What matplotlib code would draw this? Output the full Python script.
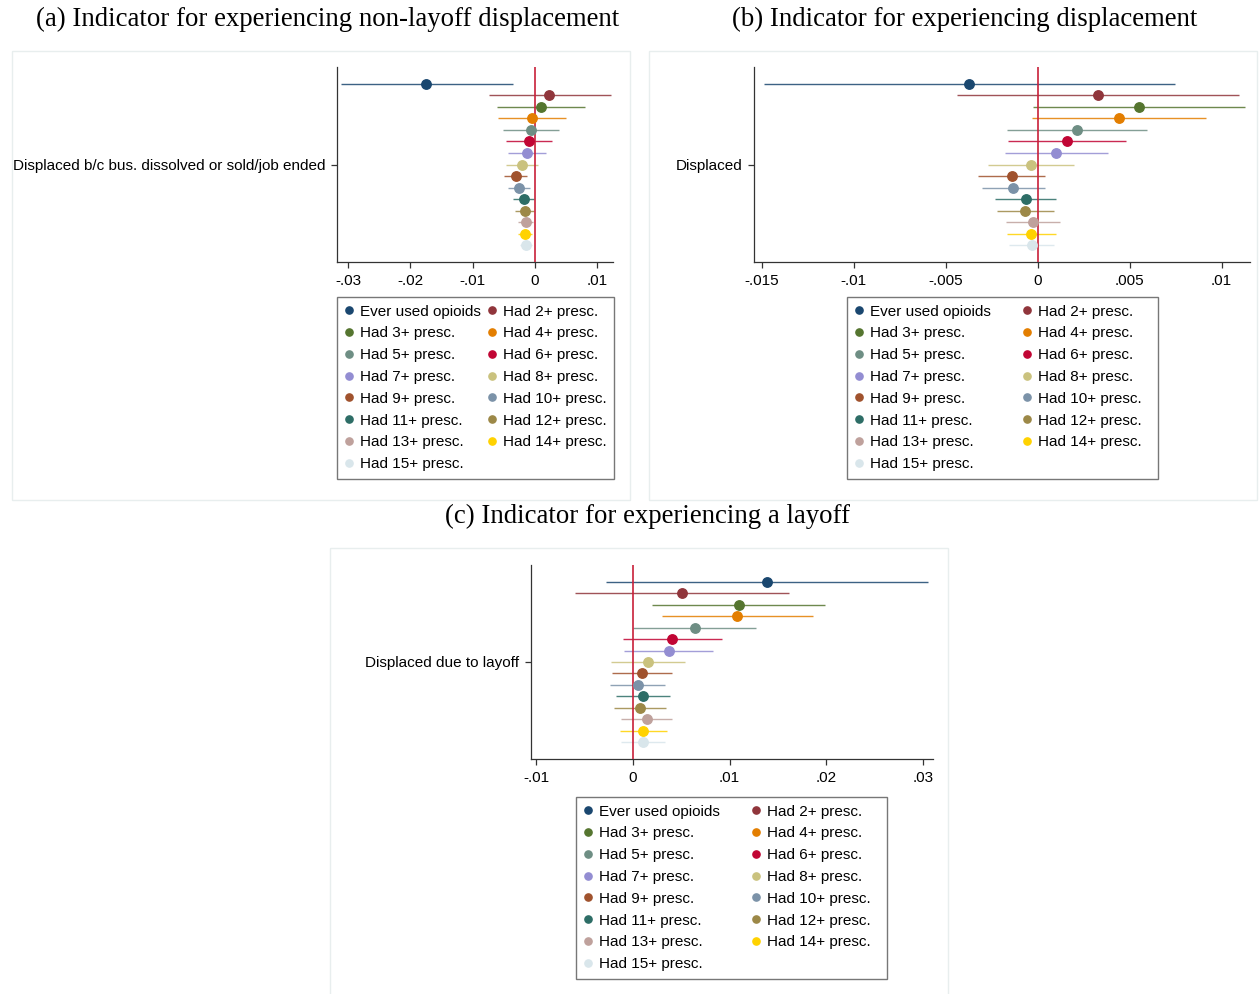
import matplotlib
matplotlib.use("Agg")
import matplotlib.pyplot as plt
from matplotlib.lines import Line2D
from matplotlib.patches import Rectangle
from matplotlib.ticker import FixedLocator

W, H = 1259, 994
fig = plt.figure(figsize=(W / 100, H / 100), dpi=100)
fig.patch.set_facecolor("white")

SANS = "Liberation Sans"
SERIF = "Liberation Serif"

labels = ["Ever used opioids", "Had 2+ presc.", "Had 3+ presc.", "Had 4+ presc.",
          "Had 5+ presc.", "Had 6+ presc.", "Had 7+ presc.", "Had 8+ presc.",
          "Had 9+ presc.", "Had 10+ presc.", "Had 11+ presc.", "Had 12+ presc.",
          "Had 13+ presc.", "Had 14+ presc.", "Had 15+ presc."]
colors = ["#1a476f", "#90353b", "#55752f", "#e37e00", "#6e8e84", "#c10534",
          "#938dd2", "#cac27e", "#a0522d", "#7b92a8", "#2d6d66", "#9c8847",
          "#bfa19c", "#ffd200", "#d9e6eb"]

# Panel (a): non-layoff displacement
a_est = [-0.01742, 0.00233, 0.00097, -0.00049, -0.00065, -0.00092, -0.00130, -0.00211,
         -0.00303, -0.00249, -0.00179, -0.00157, -0.00141, -0.00152, -0.00141]
a_lo = [-0.03117, -0.00741, -0.00611, -0.00595, -0.00514, -0.00455, -0.00433, -0.00460,
        -0.00492, -0.00433, -0.00357, -0.00314, -0.00276, -0.00265, -0.00244]
a_hi = [-0.00357, 0.01218, 0.00806, 0.00509, 0.00395, 0.00271, 0.00173, 0.00054,
        -0.00124, -0.00070, -0.00011, -0.00005, -0.00022, -0.00038, -0.00049]

# Panel (b): displacement
b_est = [-0.00371, 0.00328, 0.00549, 0.00442, 0.00212, 0.00161, 0.00101, -0.00038,
         -0.00141, -0.00132, -0.00063, -0.00067, -0.00027, -0.00034, -0.00033]
b_lo = [-0.01489, -0.00437, -0.00027, -0.00031, -0.00168, -0.00161, -0.00179, -0.00272,
        -0.00322, -0.00301, -0.00230, -0.00219, -0.00172, -0.00167, -0.00156]
b_hi = [0.00746, 0.01094, 0.01127, 0.00917, 0.00592, 0.00482, 0.00380, 0.00196,
        0.00040, 0.00038, 0.00101, 0.00087, 0.00120, 0.00098, 0.00091]

# Panel (c): layoff
c_est = [0.01386, 0.00510, 0.01097, 0.01079, 0.00638, 0.00410, 0.00372, 0.00162,
         0.00097, 0.00052, 0.00107, 0.00076, 0.00145, 0.00110, 0.00107]
c_lo = [-0.00276, -0.00597, 0.00203, 0.00307, 0.00007, -0.00103, -0.00093, -0.00221,
        -0.00217, -0.00234, -0.00176, -0.00190, -0.00121, -0.00131, -0.00124]
c_hi = [0.03048, 0.01614, 0.01986, 0.01862, 0.01272, 0.00924, 0.00828, 0.00541,
        0.00407, 0.00334, 0.00386, 0.00341, 0.00407, 0.00352, 0.00338]

titles = ["(a) Indicator for experiencing non-layoff displacement",
          "(b) Indicator for experiencing displacement",
          "(c) Indicator for experiencing a layoff"]
ylabels = ["Displaced b/c bus. dissolved or sold/job ended", "Displaced",
           "Displaced due to layoff"]
a_ticks = [-0.03, -0.02, -0.01, 0, 0.01]
a_ticklabels = ["-.03", "-.02", "-.01", "0", ".01"]
b_ticks = [-0.015, -0.01, -0.005, 0, 0.005, 0.01]
b_ticklabels = ["-.015", "-.01", "-.005", "0", ".005", ".01"]
c_ticks = [-0.01, 0, 0.01, 0.02, 0.03]
c_ticklabels = ["-.01", "0", ".01", ".02", ".03"]


def rect(l, t, r, b):
    return [l / W, 1 - b / H, (r - l) / W, (b - t) / H]


# panel background boxes
for (l, t, r, b) in [(12, 51, 630, 500), (649, 51, 1257, 500), (330, 548, 948, 1000)]:
    fig.patches.append(Rectangle((l / W, 1 - b / H), (r - l) / W, (b - t) / H,
                                 transform=fig.transFigure, facecolor="none",
                                 edgecolor="#e8eeee", lw=1.0, zorder=-5))

panels = [
    dict(est=a_est, lo=a_lo, hi=a_hi, pos=(337, 67, 613, 262), xlim=(-0.03177, 0.01257),
         ticks=a_ticks, tl=a_ticklabels, title=titles[0], tpos=(328, 19),
         ylab=ylabels[0], leg=(475.5, 297), colsp=0.42, pad=""),
    dict(est=b_est, lo=b_lo, hi=b_hi, pos=(754, 67, 1250, 262), xlim=(-0.01542, 0.01154),
         ticks=b_ticks, tl=b_ticklabels, title=titles[1], tpos=(964.5, 19),
         ylab=ylabels[1], leg=(1002.5, 297), colsp=2.05, pad="  "),
    dict(est=c_est, lo=c_lo, hi=c_hi, pos=(531, 565, 933, 759), xlim=(-0.01052, 0.03103),
         ticks=c_ticks, tl=c_ticklabels, title=titles[2], tpos=(647, 516),
         ylab=ylabels[2], leg=(731.5, 797), colsp=2.05, pad="  "),
]

n = len(labels)
ypos = [n - 1 - i for i in range(n)]

for p in panels:
    ax = fig.add_axes(rect(*p["pos"]))
    ax.set_facecolor("none")
    for i in range(n):
        ax.plot([p["lo"][i], p["hi"][i]], [ypos[i], ypos[i]], color=colors[i],
                lw=1.0, alpha=0.85, solid_capstyle="butt", zorder=2)
        ax.plot([p["est"][i]], [ypos[i]], marker="o", ms=6.8, color=colors[i],
                mec=colors[i], ls="none", zorder=4)
    ax.axvline(0, color="#c8203a", lw=1.2, zorder=3)
    ax.set_xlim(*p["xlim"])
    ax.set_ylim(-1.47, n - 1 + 1.47)
    ax.xaxis.set_major_locator(FixedLocator(p["ticks"]))
    ax.set_xticklabels(p["tl"], fontfamily=SANS, fontsize=11)
    ax.set_yticks([(n - 1) / 2])
    ax.set_yticklabels([p["ylab"]], fontfamily=SANS, fontsize=11)
    for s in ["top", "right"]:
        ax.spines[s].set_visible(False)
    for s in ["left", "bottom"]:
        ax.spines[s].set_color("#333333")
        ax.spines[s].set_linewidth(0.9)
    ax.tick_params(axis="both", direction="out", length=4.5, width=0.9,
                   color="#333333", pad=4, labelcolor="black")

    fig.text(p["tpos"][0] / W, 1 - p["tpos"][1] / H, p["title"], family=SERIF,
             fontsize=19.3, ha="center", va="center", color="black")

    order = list(range(0, n, 2)) + list(range(1, n, 2))
    handles = [Line2D([], [], marker="o", ls="none", ms=5.2, color=colors[i],
                      mec=colors[i]) for i in order]
    leg_labels = [labels[i] + (p["pad"] if i % 2 == 1 else "") for i in order]
    leg = fig.legend(handles, leg_labels, ncol=2,
                     loc="upper center",
                     bbox_to_anchor=(p["leg"][0] / W, 1 - p["leg"][1] / H),
                     bbox_transform=fig.transFigure,
                     prop={"family": SANS, "size": 11},
                     frameon=True, fancybox=False, edgecolor="#555555",
                     handlelength=0.6, handletextpad=0.42, borderpad=0.5,
                     labelspacing=0.51, columnspacing=p["colsp"],
                     borderaxespad=0)
    leg.get_frame().set_linewidth(1.0)

fig.savefig("out.png", dpi=100, facecolor="white")
